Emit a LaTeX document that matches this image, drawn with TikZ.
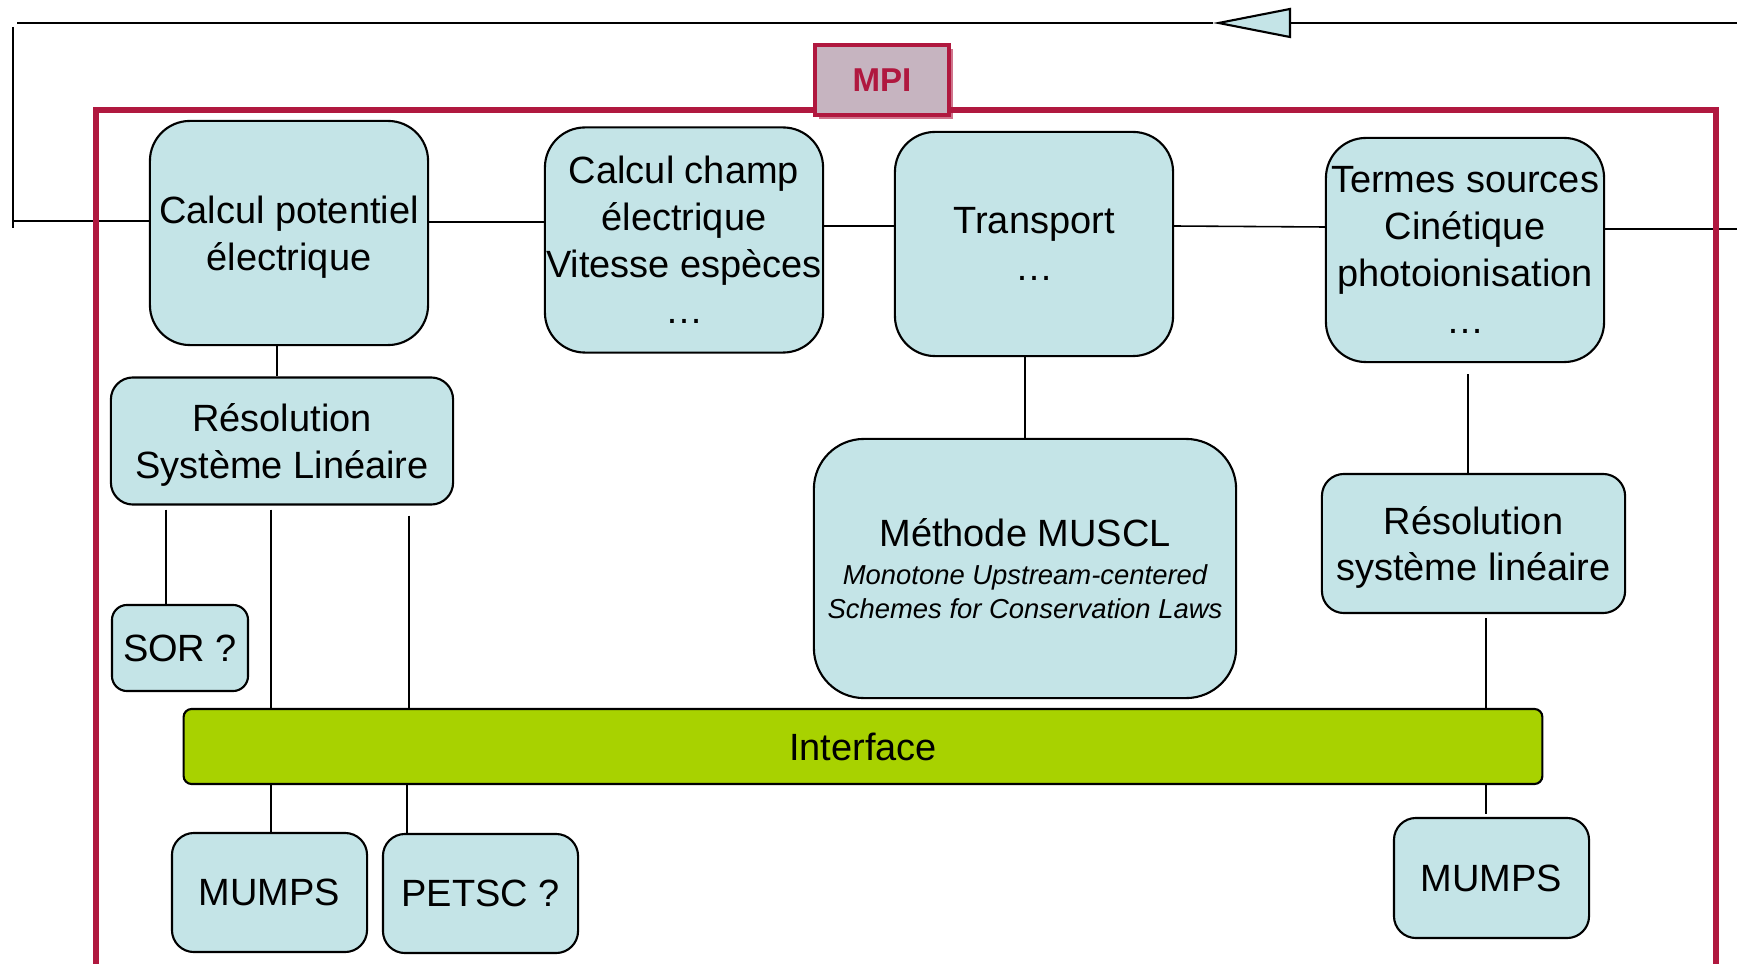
\documentclass[tikz,border=0pt]{standalone}
\usepackage{fontspec}
\setmainfont{Liberation Sans}
\usetikzlibrary{arrows.meta, shadows}
\definecolor{boxcyan}{HTML}{C4E4E7}
\definecolor{ifgreen}{HTML}{A8D200}
\definecolor{mpired}{HTML}{B0183F}
\definecolor{mpifill}{HTML}{C6B4C0}
\tikzset{
	module/.style={rectangle, rounded corners=0.4cm, draw=black, line width=0.6pt, fill=boxcyan, align=center, inner sep=0pt, text depth=0pt, font=\fontsize{10.8}{13.3}\selectfont},
	solver/.style={module, rounded corners=0.22cm},
	link/.style={line width=0.45pt},
	retour/.style={line width=0.8pt}
}
\newcommand{\musclsub}[1]{{\fontsize{7.8}{9.7}\selectfont\itshape #1}}

\begin{document}
\begin{tikzpicture}[x=0.01cm, y=-0.01cm]
		\useasboundingbox (0,0) rectangle (1737,964);
		
		% Modules de calcul
		\node[module, minimum width=2.78cm, minimum height=2.24cm] (cpot) at (289,233) {Calcul potentiel\\électrique};
		\node[module, minimum width=2.78cm, minimum height=2.25cm] (cchamp) at (684,240) {Calcul champ\\électrique\\Vitesse espèces\\…};
		\node[module, minimum width=2.78cm, minimum height=2.24cm] (transp) at (1034,244) {Transport\\…};
		\node[module, minimum width=2.78cm, minimum height=2.24cm] (tsrc) at (1465,250) {Termes sources\\Cinétique\\photoionisation\\…};
		
		% Solveurs
		\node[solver, minimum width=3.42cm, minimum height=1.27cm] (reslin) at (282,441) {Résolution\\Système Linéaire};
		\node[solver, rounded corners=0.15cm, minimum width=1.36cm, minimum height=0.86cm] (sor) at (180,648) {SOR ?};
		\node[solver, minimum width=1.95cm, minimum height=1.19cm] (mumpsG) at (269.5,892.5) {MUMPS};
		\node[solver, minimum width=1.95cm, minimum height=1.19cm] (petsc) at (480.5,893.5) {PETSC ?};
		\node[module, rounded corners=0.5cm, minimum width=4.22cm, minimum height=2.59cm] (muscl) at (1025,568.5) {Méthode MUSCL\\[-2.6pt]\musclsub{Monotone Upstream-centered}\\[-3.6pt]\musclsub{Schemes for Conservation Laws}};
		\node[solver, minimum width=3.03cm, minimum height=1.39cm] (resdr) at (1473.5,543.5) {Résolution\\système linéaire};
		\node[solver, minimum width=1.95cm, minimum height=1.20cm] (mumpsD) at (1491.5,878) {MUMPS};
		
		% Interface
		\node[module, fill=ifgreen, rounded corners=0.08cm, minimum width=13.58cm, minimum height=0.75cm] (iface) at (863,746.5) {Interface};
		
		% Boucle de retour
		\coordinate (bordH) at (1737,23);
		\coordinate (pointe) at (1213,23);
		\coordinate (retourG) at (17,23);
		\coordinate (bordD) at (1737,229);
		\coordinate (bordG) at (12,221);
		\draw[link, -{Triangle[length=0.78cm, width=0.3cm, fill=boxcyan, line width=0.6pt]}] (bordH) -- (pointe);
		\draw[link] (pointe) -- (retourG);
		\draw[retour] (13,27) -- (13,228);
		\draw[link] (bordG) -- (cpot.west |- bordG);
		
		% Liaisons horizontales
		\draw[link] (cpot.east |- 0,222) -- (cchamp.west |- 0,222);
		\draw[link] (cchamp.east |- 0,226) -- (transp.west |- 0,226);
		\draw[link] (transp.east |- 0,226) -- (tsrc.west |- 0,227);
		\draw[link] (tsrc.east |- bordD) -- (bordD);
		
		% Liaisons verticales
		\draw[link] (cpot.south -| 277,0) -- (reslin.north -| 277,0);
		\draw[link] (reslin.south -| 166,0) ++(0,4) -- (sor.north -| 166,0);
		\draw[link] (reslin.south -| 271,0) ++(0,4) -- (iface.north -| 271,0);
		\draw[link] (iface.south -| 271,0) -- (mumpsG.north -| 271,0);
		\draw[link] (reslin.south -| 409,0) ++(0,10) -- (iface.north -| 409,0);
		\draw[link] (iface.south -| 407,0) -- (petsc.north -| 407,0);
		\draw[link] (transp.south -| 1025,0) -- (muscl.north -| 1025,0);
		\draw[link] (tsrc.south -| 1468,0) ++(0,11) -- (resdr.north -| 1468,0);
		\draw[link] (resdr.south -| 1486,0) ++(0,4) -- (iface.north -| 1486,0);
		\draw[link] (iface.south -| 1486,0) -- ([yshift=0.03cm]mumpsD.north -| 1486,0);
		
		% Cadre MPI
		\draw[mpired, line width=1.7pt] (96,110) rectangle (1716,968);
		\node[draw=mpired, line width=1.2pt, fill=mpifill, drop shadow={shadow xshift=1.2pt, shadow yshift=-1.2pt, fill=mpired, opacity=0.6}, minimum width=1.34cm, minimum height=0.70cm, text=mpired, font=\fontsize{9.4}{11}\selectfont\bfseries] (mpi) at (882,80) {MPI};
		
	\end{tikzpicture}
\end{document}
